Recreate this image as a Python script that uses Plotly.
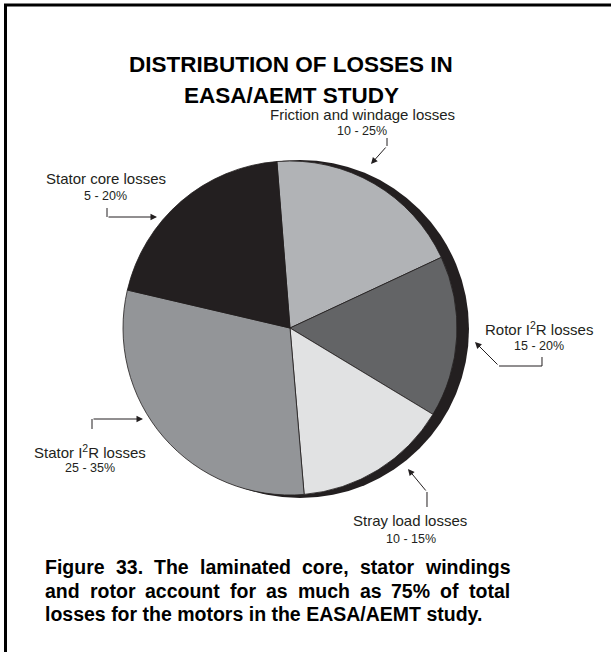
import plotly.graph_objects as go

# ---------------- data ----------------
categories = ["Friction and windage losses", "Rotor I<sup>2</sup>R losses",
              "Stray load losses", "Stator I<sup>2</sup>R losses", "Stator core losses"]
ranges = ["10 - 25%", "15 - 20%", "10 - 15%", "25 - 35%", "5 - 20%"]
shares = [19.3, 15.6, 15.0, 30.0, 20.1]

title_lines = ["DISTRIBUTION OF LOSSES IN", "EASA/AEMT STUDY"]
caption_lines = ["Figure 33. The laminated core, stator windings",
                 "and rotor account for as much as 75% of total",
                 "losses for the motors in the EASA/AEMT study."]

# ---------------- style ----------------
W, H = 611, 652
INK = "#231f20"
colors = ["#b1b3b6", "#636466", "#e1e2e3", "#939598", "#231f20"]
FONT = "Liberation Sans, Arial, Helvetica, sans-serif"

def px(x):
    return x / W

def py(y):
    return 1 - y / H

CX, CY, R = 290, 328, 167

fig = go.Figure()
fig.add_trace(go.Pie(
    labels=categories, values=shares, sort=False, direction="clockwise",
    rotation=-4.5, marker=dict(colors=colors, line=dict(color=INK, width=0.8)),
    textinfo="none", hoverinfo="label+value", showlegend=False,
    domain=dict(x=[px(CX - R), px(CX + R)], y=[py(CY + R), py(CY - R)]),
))

shapes = []
# 3D shadow disc behind the pie
SX, SY, SR = 300, 329, 169
shapes.append(dict(type="circle", xref="paper", yref="paper", layer="below",
                   x0=px(SX - SR), x1=px(SX + SR), y0=py(SY + SR), y1=py(SY - SR),
                   fillcolor=INK, line=dict(width=0)))
# frame (top + left)
shapes.append(dict(type="line", xref="paper", yref="paper", x0=px(5.5), x1=px(5.5),
                   y0=py(4), y1=0, line=dict(color="#000", width=3)))
shapes.append(dict(type="line", xref="paper", yref="paper", x0=px(4), x1=1,
                   y0=py(5), y1=py(5), line=dict(color="#000", width=3)))

annotations = []
# title
for i, t in enumerate(title_lines):
    annotations.append(dict(text="<b>%s</b>" % t, x=px(291), y=py(65 + 30.5 * i),
                            xref="paper", yref="paper", showarrow=False,
                            xanchor="center", yanchor="middle",
                            font=dict(family=FONT, size=22.5, color="#000")))

# label layout: (name centre, range centre, leader polyline, arrow tip)
label_pos = [
    ((362, 114), (362, 131), [(387, 138), (387, 146)], (371, 164)),
    ((539, 328), (539, 346), [(542, 357), (542, 366), (499, 366)], (475, 342)),
    ((410, 520), (411, 539), [(427, 507), (427, 492)], (408, 469)),
    ((90, 451), (90, 468), [(92, 429), (92, 419)], (143, 419)),
    ((106, 178), (106, 196), [(107, 208), (107, 217)], (157, 217)),
]
for name, rng, (p_name, p_rng, poly, tip) in zip(categories, ranges, label_pos):
    annotations.append(dict(text=name, x=px(p_name[0]), y=py(p_name[1]),
                            xref="paper", yref="paper", showarrow=False,
                            xanchor="center", yanchor="middle",
                            font=dict(family=FONT, size=15, color=INK)))
    annotations.append(dict(text=rng, x=px(p_rng[0]), y=py(p_rng[1]),
                            xref="paper", yref="paper", showarrow=False,
                            xanchor="center", yanchor="middle",
                            font=dict(family=FONT, size=12.5, color=INK)))
    path = "M %f %f" % (px(poly[0][0]), py(poly[0][1]))
    for (x, y) in poly[1:]:
        path += " L %f %f" % (px(x), py(y))
    shapes.append(dict(type="path", xref="paper", yref="paper", path=path,
                       line=dict(color=INK, width=1)))
    last = poly[-1]
    annotations.append(dict(text="", x=px(tip[0]), y=py(tip[1]), xref="paper", yref="paper",
                            showarrow=True, ax=last[0] - tip[0], ay=last[1] - tip[1],
                            arrowhead=2, arrowsize=1.3, arrowwidth=1, arrowcolor=INK,
                            standoff=0, startstandoff=0))

# caption, justified lines (Arial Bold metrics, per 1000 em)
BW = {'a': 556, 'b': 611, 'c': 556, 'd': 611, 'e': 556, 'f': 333, 'g': 611, 'h': 611,
      'i': 278, 'l': 278, 'm': 889, 'n': 611, 'o': 611, 'r': 389, 's': 556, 't': 333,
      'u': 611, 'w': 778, 'y': 556, 'F': 611, 'T': 611, 'E': 667, 'A': 722, 'S': 667,
      'M': 833, '/': 278, '3': 556, '5': 556, '7': 556, '.': 278, ',': 278, '%': 889}
CAP_SIZE = 19.5
CAP_L, CAP_R = 43, 508

def word_w(wd):
    return sum(BW.get(c, 556) for c in wd) * CAP_SIZE / 1000.0

for li, line in enumerate(caption_lines):
    yv = py(567 + 23.5 * li)
    words = line.split(" ")
    if li < len(caption_lines) - 1:
        tot = sum(word_w(w) for w in words)
        gap = (CAP_R - CAP_L - tot) / (len(words) - 1)
        xcur = CAP_L
        for w in words:
            annotations.append(dict(text="<b>%s</b>" % w, x=px(xcur), y=yv,
                                    xref="paper", yref="paper", showarrow=False,
                                    xanchor="left", yanchor="middle",
                                    font=dict(family=FONT, size=CAP_SIZE, color="#000")))
            xcur += word_w(w) + gap
    else:
        annotations.append(dict(text="<b>%s</b>" % line, x=px(CAP_L), y=yv,
                                xref="paper", yref="paper", showarrow=False,
                                xanchor="left", yanchor="middle",
                                font=dict(family=FONT, size=CAP_SIZE, color="#000")))

fig.update_layout(width=W, height=H, margin=dict(l=0, r=0, t=0, b=0),
                  paper_bgcolor="white", plot_bgcolor="white",
                  shapes=shapes, annotations=annotations, showlegend=False)
fig.write_html("out.html", config={"displayModeBar": False},
               post_script="document.body.style.margin='0px';document.body.style.overflow='hidden';")
